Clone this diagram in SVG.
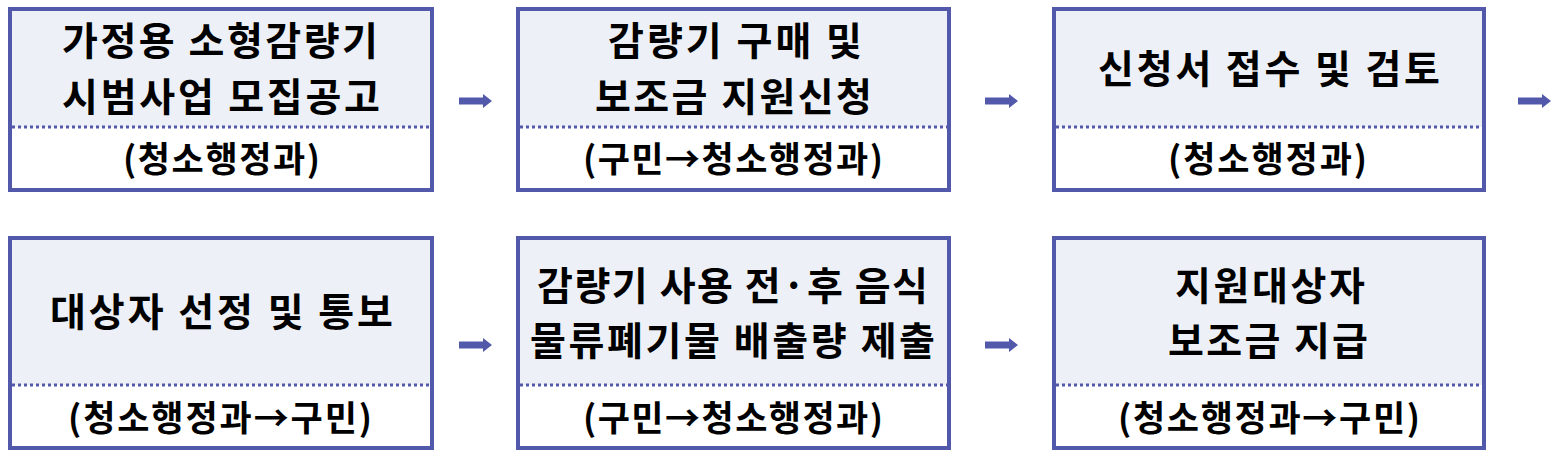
<svg xmlns="http://www.w3.org/2000/svg" width="1564" height="457" viewBox="0 0 1564 457">
<style>
.top{fill:#edf0f6;}
.bot{fill:#ffffff;}
.frame{fill:none;stroke:#5259ab;stroke-width:4;}
.dot{stroke:#5259ab;stroke-width:3;stroke-dasharray:3 3;}
.t{font-family:"Noto Sans CJK KR","Noto Sans",sans-serif;font-weight:bold;font-size:39px;fill:#000;text-anchor:middle;}
.s{font-family:"Noto Sans CJK KR","Noto Sans",sans-serif;font-weight:bold;font-size:35px;fill:#000;text-anchor:middle;}
.arr{fill:#5259ab;}
</style>
<defs>
<path id="a" d="M0,-3.5 H24 V-7 L33,0 L24,7 V3.5 H0 Z"/>
</defs>
<g id="n1">
<rect class="top" x="10" y="9" width="422" height="118"/>
<rect class="bot" x="10" y="127" width="422" height="63"/>
<line class="dot" x1="12" y1="127" x2="430" y2="127"/>
<rect class="frame" x="10" y="9" width="422" height="181"/>
<text class="t" x="220" y="55" textLength="316" lengthAdjust="spacing">가정용 소형감량기</text>
<text class="t" x="221" y="111" textLength="318" lengthAdjust="spacing">시범사업 모집공고</text>
<text class="s" x="221.5" y="172" textLength="197" lengthAdjust="spacing">(청소행정과)</text>
</g>
<g id="n2">
<rect class="top" x="518" y="9" width="431" height="118"/>
<rect class="bot" x="518" y="127" width="431" height="63"/>
<line class="dot" x1="520" y1="127" x2="947" y2="127"/>
<rect class="frame" x="518" y="9" width="431" height="181"/>
<text class="t" x="735" y="55" textLength="254" lengthAdjust="spacing">감량기 구매 및</text>
<text class="t" x="733.5" y="111" textLength="277" lengthAdjust="spacing">보조금 지원신청</text>
<text class="s" x="733" y="172" textLength="300" lengthAdjust="spacing">(구민→청소행정과)</text>
</g>
<g id="n3">
<rect class="top" x="1054" y="9" width="430" height="118"/>
<rect class="bot" x="1054" y="127" width="430" height="63"/>
<line class="dot" x1="1056" y1="127" x2="1482" y2="127"/>
<rect class="frame" x="1054" y="9" width="430" height="181"/>
<text class="t" x="1269" y="83" textLength="342" lengthAdjust="spacing">신청서 접수 및 검토</text>
<text class="s" x="1267.5" y="172" textLength="199" lengthAdjust="spacing">(청소행정과)</text>
</g>
<g id="n4">
<rect class="top" x="10" y="238" width="422" height="147"/>
<rect class="bot" x="10" y="385" width="422" height="63"/>
<line class="dot" x1="12" y1="385" x2="430" y2="385"/>
<rect class="frame" x="10" y="238" width="422" height="210"/>
<text class="t" x="221.5" y="326" textLength="343" lengthAdjust="spacing">대상자 선정 및 통보</text>
<text class="s" x="220" y="431" textLength="304" lengthAdjust="spacing">(청소행정과→구민)</text>
</g>
<g id="n5">
<rect class="top" x="518" y="238" width="431" height="147"/>
<rect class="bot" x="518" y="385" width="431" height="63"/>
<line class="dot" x1="520" y1="385" x2="947" y2="385"/>
<rect class="frame" x="518" y="238" width="431" height="210"/>
<text class="t" x="732.5" y="300" textLength="391" lengthAdjust="spacing">감량기 사용 전·후 음식</text>
<text class="t" x="732.5" y="355" textLength="405" lengthAdjust="spacing">물류폐기물 배출량 제출</text>
<text class="s" x="733" y="431" textLength="300" lengthAdjust="spacing">(구민→청소행정과)</text>
</g>
<g id="n6">
<rect class="top" x="1054" y="238" width="430" height="147"/>
<rect class="bot" x="1054" y="385" width="430" height="63"/>
<line class="dot" x1="1056" y1="385" x2="1482" y2="385"/>
<rect class="frame" x="1054" y="238" width="430" height="210"/>
<text class="t" x="1270" y="300" textLength="190" lengthAdjust="spacing">지원대상자</text>
<text class="t" x="1268" y="355" textLength="200" lengthAdjust="spacing">보조금 지급</text>
<text class="s" x="1269" y="431" textLength="302" lengthAdjust="spacing">(청소행정과→구민)</text>
</g>
<g id="connectors" class="arr">
<use href="#a" x="459" y="101"/>
<use href="#a" x="985" y="101"/>
<use href="#a" x="1518" y="101"/>
<use href="#a" x="459" y="345"/>
<use href="#a" x="985" y="345"/>
</g>
</svg>
